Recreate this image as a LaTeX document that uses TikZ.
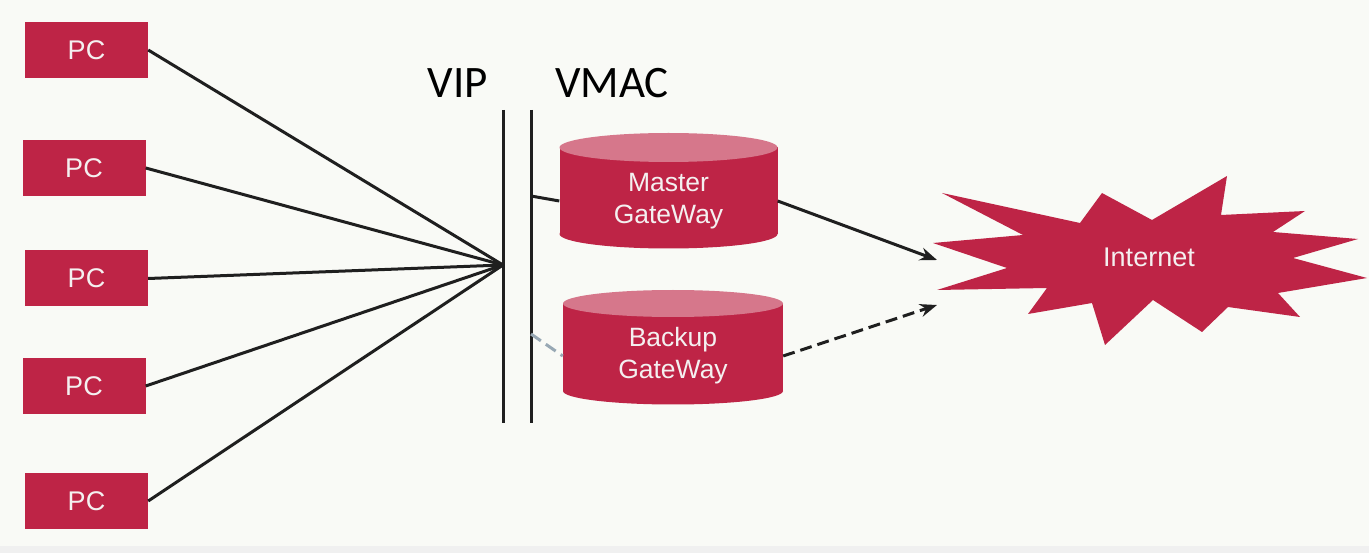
\documentclass[tikz,border=0pt]{standalone}
\usepackage{fontspec}
\setmainfont{Liberation Sans}
\newfontfamily\labelfont{Carlito}
\usetikzlibrary{arrows.meta}
\definecolor{gwred}{HTML}{BE2446}
\definecolor{gwtop}{HTML}{D6778B}
\definecolor{bgc}{HTML}{F9FAF6}
\definecolor{txt}{HTML}{F4F0F0}
\definecolor{dashgray}{HTML}{98A8B4}
\tikzset{
  pcbox/.style={fill=gwred, minimum width=123pt, minimum height=56pt, inner sep=0pt,
    text=txt, font=\fontsize{27}{32}\selectfont},
  gwtext/.style={align=center, text=txt, font=\fontsize{26.5}{32}\selectfont, inner sep=0pt},
  link/.style={line width=3pt, draw=black!88},
  tip/.style={-{Stealth[length=17pt,width=13pt]}},
  biglabel/.style={font=\labelfont\fontsize{45}{50}\selectfont, text=black, inner sep=0pt}
}
\begin{document}
\begin{tikzpicture}[x=1pt,y=-1pt]
\fill[bgc] (0,0) rectangle (1369,553);
\fill[black!6] (0,546) rectangle (1369,553);
\useasboundingbox (0,0) rectangle (1369,553);

% PCs
\node[pcbox] (pc1) at (86.5,50) {PC};
\node[pcbox] (pc2) at (84,168) {PC};
\node[pcbox] (pc3) at (86.5,278.5) {PC};
\node[pcbox] (pc4) at (84,386) {PC};
\node[pcbox] (pc5) at (86.5,501) {PC};

% VIP / VMAC lines
\coordinate (vipT) at (503,110);
\coordinate (vipB) at (503,423);
\coordinate (vmT) at (531,110);
\coordinate (vmB) at (531,423);
\draw[link] (vipT) -- (vipB);
\draw[link] (vmT) -- (vmB);
\node[biglabel] (vip) at (458,83) {VIP};
\node[biglabel] (vmac) at (612,83) {VMAC};

\coordinate (hub) at (503,265);
\foreach \p in {pc1,pc2,pc3,pc4,pc5}{\draw[link] (\p.east) -- (hub);}

% cylinders
\newcommand{\gwcyl}[5]{% cx, ytop, ybot, rx, ry
  \fill[gwred] (#1-#4,#2) rectangle (#1+#4,#3);
  \fill[gwred] (#1,#3) ellipse [x radius=#4, y radius=#5];
  \fill[gwtop] (#1,#2) ellipse [x radius=#4, y radius=#5];
}
\gwcyl{668.5}{147.5}{234}{109}{14.5}
\gwcyl{673}{303.5}{391}{110}{13.5}
\node[gwtext, minimum width=218pt, minimum height=90pt] (master) at (668.5,201) {Master\\GateWay};
\node[gwtext, minimum width=220pt, minimum height=90pt] (backup) at (673,356) {Backup\\GateWay};

% Internet star
\fill[gwred] (942,193) -- (1080,223) -- (1102,193) -- (1152,220) -- (1227,176) -- (1221,215)
  -- (1305,211) -- (1273,232) -- (1358,239) -- (1293,258) -- (1367,278) -- (1278,293)
  -- (1300,317) -- (1228,307) -- (1202,332) -- (1153,300) -- (1105,345) -- (1092,303)
  -- (1028,314) -- (1047,288) -- (937,290) -- (1007,268) -- (933,243) -- (1023,235) -- cycle;
\node[text=txt, font=\fontsize{27}{32}\selectfont, inner sep=0pt] (internet) at (1149,257) {Internet};
\coordinate (inA) at (937,260);
\coordinate (inB) at (937,305);

% connectors
\coordinate (vm1) at (531,196);
\coordinate (vm2) at (531,334);
\draw[link] (vm1) -- (master.west);
\draw[line width=3pt, draw=dashgray, dash pattern=on 12pt off 6pt] (vm2) -- (backup.west);
\draw[link, tip] (master.east) -- (inA);
\draw[link, tip, dash pattern=on 12pt off 6pt] (backup.east) -- (inB);
\end{tikzpicture}
\end{document}
